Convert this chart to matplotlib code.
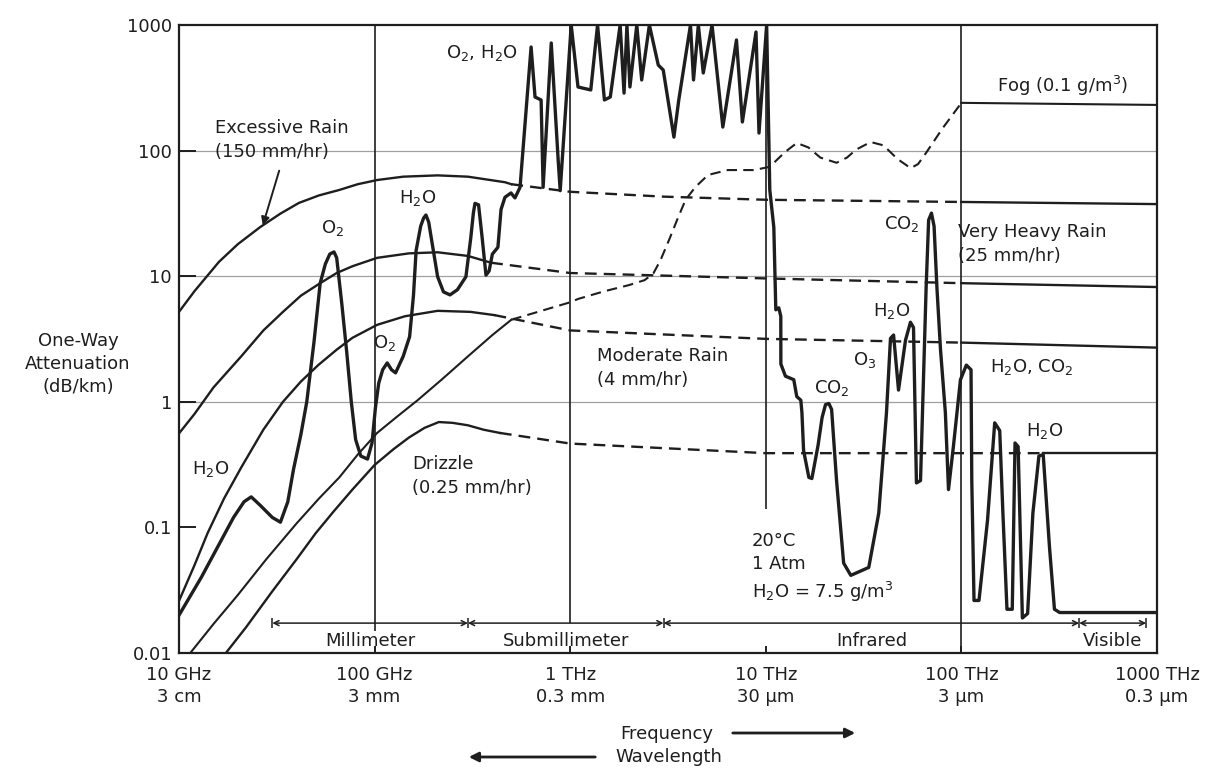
import numpy as np
import matplotlib
matplotlib.use("Agg")
import matplotlib.pyplot as plt

W, H = 1205, 774
INK = "#1e1e1e"

# frequency in GHz, one-way attenuation in dB/km
excess_f = [10, 12, 16, 20, 26, 33, 41, 52, 66, 82, 103, 140, 210, 300, 464, 500,
            1000, 3000, 10000, 100000, 1000000]
excess_v = [5.2, 7.6, 13, 18, 24.6, 31.5, 38.3, 44, 48.6, 54, 58.3, 62, 63.5, 62, 56, 54,
            47, 43, 40.6, 39, 37.5]

heavy_f = [10, 12, 15, 20.8, 27, 34, 42, 52.7, 64, 77, 103, 150, 210, 300, 394,
           1000, 10000, 100000, 1000000]
heavy_v = [0.56, 0.8, 1.3, 2.3, 3.7, 5.2, 7.0, 8.8, 10.6, 12, 14, 15.2, 15.5, 14.5, 12.8,
           10.6, 9.6, 8.8, 8.2]

moderate_f = [10, 12, 14, 17, 20.8, 27, 34, 42, 51.5, 64, 77, 103, 143, 210, 309, 410,
              1000, 10000, 100000, 1000000]
moderate_v = [0.026, 0.05, 0.09, 0.17, 0.30, 0.6, 1.0, 1.45, 1.96, 2.6, 3.23, 4.1, 4.8, 5.3,
              5.2, 4.9, 3.7, 3.17, 2.96, 2.7]

drizzle_f = [16, 22, 30, 40, 50, 62, 77, 100, 125, 150, 180, 213, 250, 300, 360, 437,
             1000, 10000, 100000, 262000, 1000000]
drizzle_v = [0.0085, 0.016, 0.031, 0.056, 0.09, 0.135, 0.2, 0.314, 0.42, 0.52, 0.62, 0.69,
             0.68, 0.65, 0.6, 0.565, 0.465, 0.39, 0.39, 0.39, 0.39]

fog_f = [11, 15, 20, 28, 40, 52, 66, 82, 103, 130, 166, 220, 300, 400, 500, 1000, 1100, 1500,
         2000, 2400, 2660, 2900, 3200, 3550, 3890, 4370, 5070, 6380, 8700, 10350, 11000, 12500,
         14400, 16500, 19000, 23000, 26000, 29000, 34400, 40000, 47000, 55000, 60000, 66000,
         80000, 100000, 1000000]
fog_v = [0.0093, 0.017, 0.029, 0.056, 0.108, 0.17, 0.25, 0.38, 0.565, 0.76, 1.03, 1.5, 2.3,
         3.4, 4.5, 6.2, 6.6, 7.6, 8.5, 9.3, 10.5, 13.5, 19.4, 29, 40.6, 51.4, 64, 70, 70, 74,
         80, 97, 115, 106, 88, 80, 88, 102, 117, 110, 86, 72.5, 78, 96, 150, 240, 231]

# clear-air absorption (20 C, 1 atm, 7.5 g/m3 water vapour)
gas_mm_f = [10, 13, 15.2, 19, 21.5, 23.4, 26, 30, 33, 36, 38.5, 42, 45, 49, 52.7, 56, 59, 62,
            64, 68, 72, 76, 80, 85, 92, 97, 101, 105, 110, 116, 122, 128, 140, 151, 158, 163,
            172, 178, 183, 189, 195, 210, 225, 243, 265, 293, 310, 320, 326, 340, 355, 371,
            385, 400, 427, 443, 464, 498, 522]
gas_mm_v = [0.02, 0.04, 0.063, 0.12, 0.16, 0.175, 0.15, 0.12, 0.11, 0.16, 0.29, 0.55, 1.0, 3,
            8.8, 12.5, 15, 15.6, 14, 6, 2.5, 1.0, 0.5, 0.37, 0.35, 0.47, 0.9, 1.41, 1.8, 2.04,
            1.8, 1.7, 2.3, 3.3, 7, 16, 25, 29, 30.7, 27, 20, 9.9, 7.5, 7.1, 7.8, 9.9, 20, 32, 38,
            37, 20, 10.2, 11, 15, 17, 34, 42.5, 46, 42]

gas_submm_f = [554, 631, 661, 710, 727, 800, 868, 889, 1012, 1096, 1274, 1380, 1496, 1603, 1800,
               1885, 1950, 2020, 2190, 2320, 2540, 2820, 2990, 3390, 3590, 4120, 4270, 4520,
               4790, 5310, 6030, 7080, 7590, 8910, 9230, 10100]
gas_submm_v = [51, 668, 267, 253, 51, 719, 84, 48, 1000, 321, 304, 1000, 253, 267, 1000, 287,
               1000, 321, 1000, 365, 1000, 480, 438, 128, 253, 1000, 365, 1000, 415, 1000, 154,
               760, 169, 880, 138, 1000]

gas_ir_f = [10480, 10990, 11250, 11650, 11930, 11940, 12600, 13900, 14400, 15100, 15300, 15600,
            16600, 17200, 18500, 19400, 20200, 21000, 21700, 23000, 25000, 27200, 31600, 33600,
            37800, 41400, 43400, 45000, 47700, 51800, 54900, 56900, 58900, 61800, 64000, 66000,
            68000, 70300, 72500, 75000, 78200, 82800, 85900, 91000, 98900, 106000, 112000,
            113000, 116000, 123000, 136000, 148000, 157000, 163000, 171000, 182000, 188000,
            195000, 205000, 218000, 232000, 249000, 262000, 282000, 299000, 318000, 1000000]
gas_ir_v = [48.7, 24.5, 5.4, 5.6, 4.8, 2.0, 1.6, 1.5, 1.1, 1.03, 0.82, 0.41, 0.25, 0.245, 0.45,
            0.75, 0.95, 0.97, 0.87, 0.236, 0.052, 0.0415, 0.046, 0.048, 0.13, 0.82, 3.2, 3.4,
            1.24, 3.1, 4.3, 3.9, 0.226, 0.236, 1.5, 8, 28, 31.8, 25, 8, 2.6, 0.82, 0.2, 0.44,
            1.5, 1.96, 1.8, 0.236, 0.0262, 0.0262, 0.114, 0.68, 0.59, 0.13, 0.0223, 0.0223,
            0.47, 0.44, 0.019, 0.0206, 0.13, 0.37, 0.38, 0.07, 0.0223, 0.021, 0.021]

freq_ticks = [10, 100, 1e3, 1e4, 1e5, 1e6]
freq_labels = ["10 GHz\n3 cm", "100 GHz\n3 mm", "1 THz\n0.3 mm", "10 THz\n30 μm",
               "100 THz\n3 μm", "1000 THz\n0.3 μm"]
att_ticks = [0.01, 0.1, 1, 10, 100, 1000]
att_labels = ["0.01", "0.1", "1", "10", "100", "1000"]

band_edges = [30, 300, 3000, 4e5, 8.8e5]
band_names = ["Millimeter", "Submillimeter", "Infrared", "Visible"]

plt.rcParams["font.family"] = ["DejaVu Sans"]
plt.rcParams["mathtext.fontset"] = "dejavusans"
FS = 13


def draw_curve(ax, f, v, lo, hi, lw):
    f = np.asarray(f, dtype=float)
    v = np.asarray(v, dtype=float)
    a = f <= lo
    b = (f >= lo) & (f <= hi)
    c = f >= hi
    ax.plot(f[a], v[a], color=INK, lw=lw, zorder=3)
    ax.plot(f[b], v[b], color=INK, lw=lw, ls=(0, (5, 3)), zorder=3)
    ax.plot(f[c], v[c], color=INK, lw=lw, zorder=3)


def fp(x, y):
    # pixel position measured from the top-left corner -> figure pixels
    return (x, H - y)


def label(ax, s, x, y, ha="center", **kw):
    ax.annotate(s, xy=fp(x, y), xycoords="figure pixels", ha=ha, va="center",
                fontsize=FS, color=INK, **kw)


fig = plt.figure(figsize=(W / 100, H / 100), dpi=100)
ax = fig.add_axes([179 / W, 1 - 653 / H, (1157 - 179) / W, (653 - 25) / H])
ax.set_xscale("log")
ax.set_yscale("log")
ax.set_xlim(10, 1e6)
ax.set_ylim(0.01, 1000)

# grid
for v in [1, 10, 100]:
    ax.axhline(v, color="#a0a0a0", lw=0.9, zorder=1)
ax.vlines(100, 0.015, 1000, color=INK, lw=1.2, zorder=2)
ax.vlines(1000, 0.0173, 1000, color=INK, lw=1.2, zorder=2)
ax.vlines(1e4, 0.14, 1000, color=INK, lw=1.2, zorder=2)
ax.vlines(1e5, 0.01, 1000, color=INK, lw=1.2, zorder=2)

# rain and fog
draw_curve(ax, excess_f, excess_v, 500, 1e5, 1.7)
draw_curve(ax, heavy_f, heavy_v, 394, 1e5, 1.7)
draw_curve(ax, moderate_f, moderate_v, 410, 1e5, 1.7)
draw_curve(ax, drizzle_f, drizzle_v, 437, 262000, 1.7)
draw_curve(ax, fog_f, fog_v, 500, 1e5, 1.5)

# gaseous absorption
gas_f = gas_mm_f + gas_submm_f + gas_ir_f
gas_v = gas_mm_v + gas_submm_v + gas_ir_v
ax.plot(gas_f, gas_v, color=INK, lw=2.4, zorder=4, solid_joinstyle="round")

# bands along the bottom
yb = 0.0173
for a, b in zip(band_edges[:-1], band_edges[1:]):
    ax.annotate("", xy=(b, yb), xytext=(a, yb),
                arrowprops=dict(arrowstyle="<->", lw=1.1, color=INK, shrinkA=0, shrinkB=0,
                                mutation_scale=9))
ax.vlines(band_edges, 0.0157, 0.019, color=INK, lw=1.1)
for a, b, name in zip(band_edges[:-1], band_edges[1:], band_names):
    ax.text(np.sqrt(a * b), 0.0124, name, ha="center", va="center", fontsize=FS, color=INK)

# axes
ax.set_xticks(freq_ticks)
ax.set_xticklabels(freq_labels, fontsize=FS, color=INK, linespacing=1.3)
ax.set_yticks(att_ticks)
ax.set_yticklabels(att_labels, fontsize=FS, color=INK)
ax.minorticks_off()
ax.tick_params(axis="y", direction="in", length=12, width=1.4, pad=5, colors=INK)
ax.tick_params(axis="x", direction="in", length=5, width=1.4, pad=9, colors=INK)
for sp in ax.spines.values():
    sp.set_linewidth(1.6)
    sp.set_color(INK)

# labels
label(ax, "Excessive Rain\n(150 mm/hr)", 215, 140, ha="left", linespacing=1.45)
ax.annotate("", xy=fp(262, 228), xycoords="figure pixels", xytext=fp(280, 168),
            textcoords="figure pixels",
            arrowprops=dict(arrowstyle="-|>", lw=1.4, color=INK, mutation_scale=12))
label(ax, "O$_2$", 333, 228)
label(ax, "H$_2$O", 418, 198)
label(ax, "O$_2$, H$_2$O", 482, 53)
label(ax, "O$_2$", 385, 343)
label(ax, "H$_2$O", 211, 469)
label(ax, "Drizzle\n(0.25 mm/hr)", 412, 476, ha="left", linespacing=1.45)
label(ax, "Moderate Rain\n(4 mm/hr)", 597, 368, ha="left", linespacing=1.45)
label(ax, "Very Heavy Rain\n(25 mm/hr)", 958, 244, ha="left", linespacing=1.45)
label(ax, "Fog (0.1 g/m$^3$)", 997, 86, ha="left")
label(ax, "CO$_2$", 902, 224)
label(ax, "H$_2$O", 892, 311)
label(ax, "O$_3$", 865, 360)
label(ax, "CO$_2$", 832, 388)
label(ax, "H$_2$O, CO$_2$", 990, 367, ha="left")
label(ax, "H$_2$O", 1045, 431)
label(ax, "20°C\n1 Atm\nH$_2$O = 7.5 g/m$^3$", 752, 568, ha="left", linespacing=1.35)
label(ax, "One-Way\nAttenuation\n(dB/km)", 78, 364, linespacing=1.35)

label(ax, "Frequency", 667, 734)
label(ax, "Wavelength", 669, 757)
ax.annotate("", xy=fp(858, 733), xycoords="figure pixels", xytext=fp(730, 733),
            textcoords="figure pixels",
            arrowprops=dict(arrowstyle="-|>", lw=2, color=INK, mutation_scale=14))
ax.annotate("", xy=fp(466, 757), xycoords="figure pixels", xytext=fp(598, 757),
            textcoords="figure pixels",
            arrowprops=dict(arrowstyle="-|>", lw=2, color=INK, mutation_scale=14))

fig.savefig("out.png", dpi=100, facecolor="white")
